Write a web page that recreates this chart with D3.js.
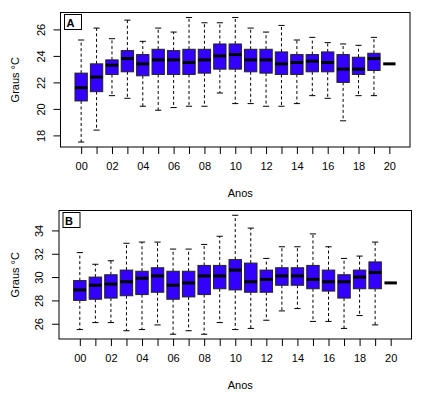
<!DOCTYPE html>
<html>
<head>
<meta charset="utf-8">
<script src="https://cdn.jsdelivr.net/npm/d3@7"></script>
<style>
  body { margin: 0; background: #fff; }
  svg { display: block; font-family: "Liberation Sans", Arial, sans-serif; }
</style>
</head>
<body>
<div id="chart"></div>
<script>
// Years on the x axis (one box per year)
const years = ["00","01","02","03","04","05","06","07","08","09","10",
               "11","12","13","14","15","16","17","18","19","20"];

// Panel A (min temperature) - whisker low, q1, median, q3, whisker high
const aLow  = [17.5, 18.4, 21.0, 20.8, 20.2, 19.9, 20.1, 20.2, 20.2, 21.2, 20.4,
               20.4, 20.2, 20.2, 20.4, 21.0, 20.8, 19.1, 21.0, 21.0, 23.4];
const aQ1   = [20.6, 21.3, 22.6, 22.8, 22.5, 22.6, 22.6, 22.6, 22.7, 23.0, 23.0,
               22.8, 22.7, 22.6, 22.6, 22.8, 22.8, 22.0, 22.6, 22.9, 23.4];
const aMed  = [21.6, 22.4, 23.3, 23.8, 23.4, 23.7, 23.7, 23.5, 23.7, 24.0, 24.1,
               23.7, 23.7, 23.4, 23.5, 23.6, 23.5, 23.0, 23.0, 23.8, 23.4];
const aQ3   = [22.7, 23.4, 23.7, 24.4, 24.1, 24.5, 24.4, 24.5, 24.5, 24.9, 24.9,
               24.5, 24.5, 24.3, 24.1, 24.1, 24.3, 24.1, 23.9, 24.2, 23.4];
const aHigh = [25.2, 26.1, 25.3, 26.7, 25.1, 26.1, 25.8, 26.9, 26.5, 26.5, 26.9,
               26.1, 25.8, 26.3, 25.2, 25.4, 25.0, 24.9, 24.8, 25.4, 23.4];

// Panel B (max temperature)
const bLow  = [25.5, 26.1, 26.1, 25.4, 25.5, 25.9, 25.1, 25.4, 25.1, 26.1, 25.5,
               25.6, 26.3, 27.1, 27.3, 26.2, 26.2, 25.6, 26.7, 25.9, 29.5];
const bQ1   = [28.0, 28.1, 28.2, 28.4, 28.5, 28.7, 28.1, 28.3, 28.5, 29.0, 28.9,
               28.7, 28.7, 29.3, 29.3, 29.0, 28.8, 28.2, 29.0, 29.0, 29.5];
const bMed  = [28.9, 29.3, 29.4, 29.6, 29.9, 30.1, 29.3, 29.5, 30.1, 30.1, 30.6,
               29.6, 29.8, 30.1, 30.1, 29.8, 29.6, 29.6, 30.0, 30.4, 29.5];
const bQ3   = [29.7, 30.0, 30.2, 30.6, 30.5, 30.8, 30.5, 30.5, 31.0, 31.0, 31.5,
               31.2, 30.6, 30.8, 30.8, 31.0, 30.6, 30.2, 30.6, 31.3, 29.5];
const bHigh = [32.1, 31.1, 31.4, 32.9, 33.0, 33.0, 32.4, 32.4, 32.8, 33.5, 35.3,
               34.2, 31.6, 32.6, 32.6, 33.7, 32.6, 31.6, 31.8, 33.0, 29.5];

const aTicks = [18, 20, 22, 24, 26];
const bTicks = [26, 28, 30, 32, 34];

const W = 422, H = 395;
const fill = "#3300ff";

const svg = d3.select("#chart").append("svg")
    .attr("width", W)
    .attr("height", H);

svg.append("rect").attr("width", W).attr("height", H).attr("fill", "#fff");

function panel(opts) {
    const {box, low, q1, med, q3, high, ticks, label} = opts;

    const rows = years.map((y, i) => ({
        year: y, i: i, low: low[i], q1: q1[i], med: med[i], q3: q3[i], high: high[i]
    }));

    // R style: 4% padding on both axes
    const n = years.length;
    const xPad = (n) * 0.04;
    const x = d3.scaleLinear()
        .domain([-0.5 - xPad, n - 0.5 + xPad])
        .range([box.left, box.right]);

    const lo = d3.min(low), hi = d3.max(high);
    const yPad = (hi - lo) * 0.04;
    const y = d3.scaleLinear()
        .domain([lo - yPad, hi + yPad])
        .range([box.bottom, box.top]);

    const step = x(1) - x(0);
    const bw = step * 0.8;

    const g = svg.append("g");

    // whiskers (dashed)
    g.selectAll(".whiskUp").data(rows).enter().append("line")
        .attr("x1", d => x(d.i)).attr("x2", d => x(d.i))
        .attr("y1", d => y(d.q3)).attr("y2", d => y(d.high))
        .attr("stroke", "#000").attr("stroke-dasharray", "3,2.5");
    g.selectAll(".whiskDn").data(rows).enter().append("line")
        .attr("x1", d => x(d.i)).attr("x2", d => x(d.i))
        .attr("y1", d => y(d.q1)).attr("y2", d => y(d.low))
        .attr("stroke", "#000").attr("stroke-dasharray", "3,2.5");

    // staples
    ["low", "high"].forEach(k => {
        g.selectAll(".cap" + k).data(rows).enter().append("line")
            .attr("x1", d => x(d.i) - bw / 4).attr("x2", d => x(d.i) + bw / 4)
            .attr("y1", d => y(d[k])).attr("y2", d => y(d[k]))
            .attr("stroke", "#000");
    });

    // boxes
    g.selectAll(".box").data(rows).enter().append("rect")
        .attr("x", d => x(d.i) - bw / 2)
        .attr("width", bw)
        .attr("y", d => y(d.q3))
        .attr("height", d => y(d.q1) - y(d.q3))
        .attr("fill", fill)
        .attr("stroke", "#222")
        .attr("stroke-width", 1);

    // medians
    g.selectAll(".med").data(rows).enter().append("line")
        .attr("x1", d => x(d.i) - bw / 2).attr("x2", d => x(d.i) + bw / 2)
        .attr("y1", d => y(d.med)).attr("y2", d => y(d.med))
        .attr("stroke", "#000").attr("stroke-width", 3);

    // frame
    g.append("rect")
        .attr("x", box.left).attr("y", box.top)
        .attr("width", box.right - box.left).attr("height", box.bottom - box.top)
        .attr("fill", "none").attr("stroke", "#000");

    // x axis: tick at every year, labels on even years
    const xAxis = d3.axisBottom(x)
        .tickValues(d3.range(n))
        .tickSize(7)
        .tickPadding(8)
        .tickFormat(i => i % 2 === 0 ? years[i] : "");
    const gx = g.append("g")
        .attr("transform", `translate(0,${box.bottom})`)
        .call(xAxis);
    gx.select(".domain").remove();
    gx.selectAll("text").attr("font-size", 11).attr("fill", "#000")
        .attr("font-family", "Liberation Sans, Arial, sans-serif");

    // y axis with rotated labels
    const yAxis = d3.axisLeft(y).tickValues(ticks).tickSize(7).tickFormat(d3.format("d"));
    const gy = g.append("g")
        .attr("transform", `translate(${box.left},0)`)
        .call(yAxis);
    gy.select(".domain").remove();
    gy.selectAll("text")
        .attr("font-size", 11).attr("fill", "#000")
        .attr("font-family", "Liberation Sans, Arial, sans-serif")
        .attr("x", null).attr("dy", null)
        .attr("text-anchor", "middle")
        .attr("transform", "translate(-16,0) rotate(-90)");

    // axis titles
    g.append("text")
        .attr("x", (box.left + box.right) / 2 + 5)
        .attr("y", box.bottom + 50)
        .attr("text-anchor", "middle")
        .attr("font-size", 11)
        .text("Anos");
    g.append("text")
        .attr("transform", `translate(19,${(box.top + box.bottom) / 2}) rotate(-90)`)
        .attr("text-anchor", "middle")
        .attr("font-size", 11)
        .text("Graus °C");

    // panel letter in a little box
    g.append("rect")
        .attr("x", box.left + 4).attr("y", box.top + 2)
        .attr("width", 17).attr("height", 15)
        .attr("fill", "#fff").attr("stroke", "#000");
    g.append("text")
        .attr("x", box.left + 6).attr("y", box.top + 14)
        .attr("font-size", 11).attr("font-weight", "bold")
        .text(label);
}

panel({
    box: {left: 60.5, right: 410, top: 12.5, bottom: 147},
    low: aLow, q1: aQ1, med: aMed, q3: aQ3, high: aHigh,
    ticks: aTicks, label: "A"
});

panel({
    box: {left: 59, right: 411.5, top: 210.5, bottom: 339},
    low: bLow, q1: bQ1, med: bMed, q3: bQ3, high: bHigh,
    ticks: bTicks, label: "B"
});
</script>
</body>
</html>
